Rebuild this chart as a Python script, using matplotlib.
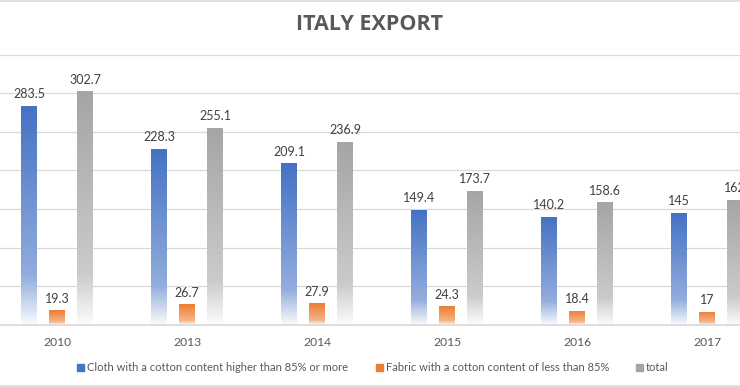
import numpy as np
import matplotlib
matplotlib.use("Agg")
import matplotlib.pyplot as plt
from matplotlib.colors import to_rgb
from matplotlib.patches import Rectangle
from matplotlib.lines import Line2D

years = ["2010", "2013", "2014", "2015", "2016", "2017"]
cloth = [283.5, 228.3, 209.1, 149.4, 140.2, 145]
fabric = [19.3, 26.7, 27.9, 24.3, 18.4, 17]
total = [302.7, 255.1, 236.9, 173.7, 158.6, 162]
series_names = ["Cloth with a cotton content higher than 85% or more",
                "Fabric with a cotton content of less than 85%",
                "total"]
colors = ["#4472C4", "#ED7D31", "#A5A5A5"]

plt.rcParams['font.family'] = ['Lato', 'DejaVu Sans']

W, H = 740, 387
fig = plt.figure(figsize=(W / 100, H / 100), dpi=100)
# plot area is wider than the picture (the original chart was cropped)
ax = fig.add_axes([-8 / W, (H - 325) / H, 780 / W, (325 - 54.5) / H])

x = np.arange(len(years))
bw = 16 / 130
off = 28 / 130


def shade(base, n=200):
    # vertical gradient: full colour at top, fading to white at the bottom
    b = np.array(to_rgb(base))
    t = np.linspace(0, 1, n)
    f = np.interp(t, [0, 0.78, 1.0], [0.0, 0.42, 0.97])
    return (b[None, :] * (1 - f[:, None]) + f[:, None]).reshape(n, 1, 3)


def grad_bars(bars, base):
    img = shade(base)
    for p in bars:
        x0, y0 = p.get_x(), p.get_y()
        w, h = p.get_width(), p.get_height()
        im = ax.imshow(img, extent=[x0, x0 + w, y0, y0 + h], aspect='auto',
                       origin='upper', zorder=2)
        im.set_clip_path(p)
        p.set_alpha(0)


for vals, dx, col in [(cloth, -off, colors[0]), (fabric, 0, colors[1]),
                      (total, off, colors[2])]:
    bars = ax.bar(x + dx, vals, bw, color=col, zorder=2)
    grad_bars(bars, col)
    for xi, v in zip(x + dx, vals):
        ax.annotate(f"{v:g}", (xi, v), xytext=(0, 4), textcoords='offset points',
                    ha='center', va='bottom', fontsize=9, color='#404040')

ax.set_xlim(-0.5, len(years) - 0.5)
ax.set_ylim(0, 350)
ax.set_yticks(np.arange(0, 351, 50))
ax.yaxis.grid(True, color='#d9d9d9', lw=0.9)
ax.set_axisbelow(True)
ax.set_xticks(x)
ax.set_xticklabels(years, fontsize=8.7, color='#595959')
ax.tick_params(axis='x', length=0, pad=9)
ax.tick_params(axis='y', length=0, labelleft=False)
for s in ['left', 'right', 'top']:
    ax.spines[s].set_visible(False)
ax.spines['bottom'].set_color('#d9d9d9')
ax.spines['bottom'].set_linewidth(1.2)

fig.text(370 / W, 1 - 25 / H, "ITALY EXPORT", ha='center', va='center',
         fontsize=15.5, fontweight='bold', color='#595959',
         family=['Open Sans', 'DejaVu Sans'])

# legend
leg_x = [77, 376, 636]
for lx, name, col in zip(leg_x, series_names, colors):
    fig.patches.append(Rectangle((lx / W, 1 - 371 / H), 7 / W, 7 / H,
                                 transform=fig.transFigure, color=col))
    fig.text((lx + 10) / W, 1 - 367.5 / H, name, ha='left', va='center',
             fontsize=8, color='#595959')

# chart border lines
fig.add_artist(Line2D([0, 1], [1 - 1 / H, 1 - 1 / H], color='#d9d9d9', lw=1.2,
                      transform=fig.transFigure))
fig.add_artist(Line2D([0, 1], [1 / H, 1 / H], color='#d9d9d9', lw=1.2,
                      transform=fig.transFigure))

fig.savefig("out.png", dpi=100)
